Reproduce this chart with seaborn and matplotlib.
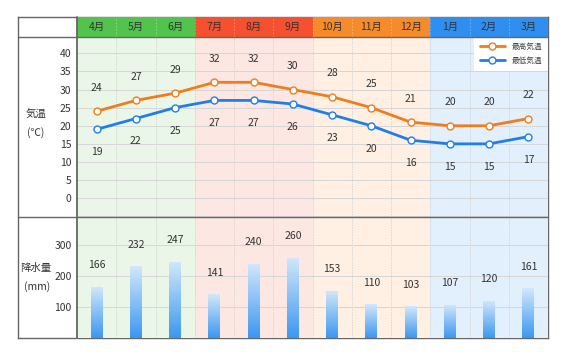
import numpy as np
import pandas as pd
import matplotlib
matplotlib.use("Agg")
import matplotlib.pyplot as plt
import seaborn as sns
from matplotlib.lines import Line2D
from matplotlib.colors import LinearSegmentedColormap

sns.set_theme(style="white")
plt.rcParams['font.family'] = ['Noto Sans CJK JP', 'DejaVu Sans']

# ---- data ----
months = ["4月", "5月", "6月", "7月", "8月", "9月", "10月", "11月", "12月", "1月", "2月", "3月"]
temp_max = [24, 27, 29, 32, 32, 30, 28, 25, 21, 20, 20, 22]
temp_min = [19, 22, 25, 27, 27, 26, 23, 20, 16, 15, 15, 17]
rain = [166, 232, 247, 141, 240, 260, 153, 110, 103, 107, 120, 161]
temp_ticks = [0, 5, 10, 15, 20, 25, 30, 35, 40]
rain_ticks = [100, 200, 300]
series_names = ["最高気温", "最低気温"]

# styles
season_head = ["#52c44e"] * 3 + ["#f5502f"] * 3 + ["#f68b2c"] * 3 + ["#2f8ff0"] * 3
season_bg = ["#eaf7e8"] * 3 + ["#fde7e3"] * 3 + ["#fff0e3"] * 3 + ["#e2effc"] * 3
c_max = "#f07c1c"
c_min = "#1f7fe6"
txt = "#333333"
frame_c = "#666666"

W, H = 567, 356
fig = plt.figure(figsize=(W / 100, H / 100), dpi=100)

def fx(px):
    return px / W

def fy(py):
    return 1 - py / H

L, R = 77, 548
T_head, B_head = 17, 36.7
B_temp, B_rain = 217, 338
LF = 18

x = np.arange(len(months))

# frame background
ax_frame = fig.add_axes([fx(LF), fy(B_rain), fx(R - LF), (B_rain - T_head) / H])
ax_frame.set_xticks([]); ax_frame.set_yticks([])
for s in ax_frame.spines.values():
    s.set_color(frame_c); s.set_linewidth(1.0)
ax_frame.set_facecolor("white")

ax_head = fig.add_axes([fx(L), fy(B_head), fx(R - L), (B_head - T_head) / H])
ax_t = fig.add_axes([fx(L), fy(B_temp), fx(R - L), (B_temp - B_head) / H])
ax_r = fig.add_axes([fx(L), fy(B_rain), fx(R - L), (B_rain - B_temp) / H])

for ax in (ax_head, ax_t, ax_r):
    ax.set_xlim(-0.5, len(months) - 0.5)
    for s in ax.spines.values():
        s.set_visible(False)

# header
for i, m in enumerate(months):
    ax_head.axvspan(i - 0.5, i + 0.5, color=season_head[i], lw=0, zorder=0)
    ax_head.text(i, 0.5, m, ha="center", va="center", fontsize=7.5, color=txt)
for i in range(1, len(months)):
    ax_head.axvline(i - 0.5, color="white", alpha=0.35, lw=0.6, ls=(0, (2, 2)))
ax_head.set_ylim(0, 1)
ax_head.set_xticks([]); ax_head.set_yticks([])

# rain panel bars first (so that only bar patches get the gradient)
ax_r.set_ylim(0, 392)
df_r = pd.DataFrame({"x": x, "rain": rain})
sns.barplot(data=df_r, x="x", y="rain", ax=ax_r, width=0.3, color="#5aa8f2",
            native_scale=True, zorder=2)
bar_patches = list(ax_r.patches)
grad = np.linspace(0, 1, 256).reshape(-1, 1)
cmap = LinearSegmentedColormap.from_list("g", ["#3c97f0", "#d3e8fb"])
for p in bar_patches:
    x0, y0 = p.get_x(), p.get_y()
    w, h = p.get_width(), p.get_height()
    im = ax_r.imshow(grad, extent=[x0, x0 + w, y0, y0 + h], origin="lower", cmap=cmap,
                     aspect="auto", zorder=2.5)
    im.set_clip_path(p)
    p.set_facecolor("none")
    p.set_edgecolor("none")
ax_r.set_xlim(-0.5, len(months) - 0.5)
ax_r.set_ylim(0, 392)

# backgrounds
for ax in (ax_t, ax_r):
    for i in range(len(months)):
        ax.axvspan(i - 0.5, i + 0.5, color=season_bg[i], lw=0, zorder=0)
    for i in range(1, len(months)):
        ax.axvline(i - 0.5, color="#cfcfcf", lw=0.6, ls=(0, (1.5, 1.5)), zorder=0.5)

for v in rain_ticks:
    ax_r.axhline(v, color="#d6d6d6", lw=0.7, zorder=0.6)
for i in range(len(months)):
    ax_r.annotate(str(rain[i]), (x[i], rain[i]), xytext=(0, 15.5), textcoords="offset points",
                  ha="center", va="center", fontsize=7.5, color=txt)
ax_r.set_yticks(rain_ticks)
ax_r.set_yticklabels([str(v) for v in rain_ticks], fontsize=7.5, color=txt)
ax_r.set_xticks([])
ax_r.tick_params(axis="y", length=0, pad=4)
ax_r.set_xlabel(""); ax_r.set_ylabel("")

# temperature panel
ax_t.set_ylim(-5.2, 44.6)
for v in [-5] + temp_ticks:
    ax_t.axhline(v, color="#d6d6d6", lw=0.7, zorder=0.6)
df_t = pd.DataFrame({"x": np.concatenate([x, x]),
                     "temp": temp_max + temp_min,
                     "kind": [series_names[0]] * 12 + [series_names[1]] * 12})
sns.lineplot(data=df_t, x="x", y="temp", hue="kind", palette=[c_max, c_min],
             marker="o", markersize=5, markerfacecolor="white", markeredgewidth=1.0,
             linewidth=2.0, ax=ax_t, legend=False, zorder=3)
for line, c in zip(ax_t.get_lines()[-2:], [c_max, c_min]):
    line.set_markeredgecolor(c)
for i in range(len(months)):
    ax_t.annotate(str(temp_max[i]), (x[i], temp_max[i]), xytext=(0, 17), textcoords="offset points",
                  ha="center", va="center", fontsize=7.5, color=txt)
    ax_t.annotate(str(temp_min[i]), (x[i], temp_min[i]), xytext=(0, -16.5), textcoords="offset points",
                  ha="center", va="center", fontsize=7.5, color=txt)
ax_t.set_yticks(temp_ticks)
ax_t.set_yticklabels([str(v) for v in temp_ticks], fontsize=7.5, color=txt)
ax_t.set_xticks([])
ax_t.tick_params(axis="y", length=0, pad=4)
ax_t.set_xlabel(""); ax_t.set_ylabel("")
ax_t.set_xlim(-0.5, len(months) - 0.5)
ax_t.set_ylim(-5.2, 44.6)

handles = [Line2D([], [], color=c, lw=2.0, marker="o", markersize=5, markerfacecolor="white",
                  markeredgecolor=c, markeredgewidth=1.0) for c in (c_max, c_min)]
leg = ax_t.legend(handles, series_names, loc="upper right", bbox_to_anchor=(1.0, 1.0),
                  borderaxespad=0.0, fontsize=5.5, handlelength=3.2, frameon=True,
                  fancybox=False, framealpha=1.0, borderpad=0.8, labelspacing=0.8,
                  handletextpad=0.9)
leg.get_frame().set_edgecolor("white")
leg.get_frame().set_linewidth(0)
for t in leg.get_texts():
    t.set_color("#444444")
leg.set_zorder(5)

# separator lines
fig.add_artist(Line2D([fx(L), fx(L)], [fy(B_rain), fy(T_head)], color=frame_c, lw=1.3))
fig.add_artist(Line2D([fx(LF), fx(R)], [fy(B_head), fy(B_head)], color=frame_c, lw=1.0))
fig.add_artist(Line2D([fx(LF), fx(R)], [fy(B_temp), fy(B_temp)], color=frame_c, lw=1.0))

# left labels
fig.text(fx(36), fy(115), "気温", ha="center", va="center", fontsize=7.5, color=txt)
fig.text(fx(36), fy(133), "(℃)", ha="center", va="center", fontsize=7.5, color=txt)
fig.text(fx(36), fy(268), "降水量", ha="center", va="center", fontsize=7.5, color=txt)
fig.text(fx(37), fy(287), "(mm)", ha="center", va="center", fontsize=7.5, color=txt)

fig.savefig("out.png", dpi=100, facecolor="white")
